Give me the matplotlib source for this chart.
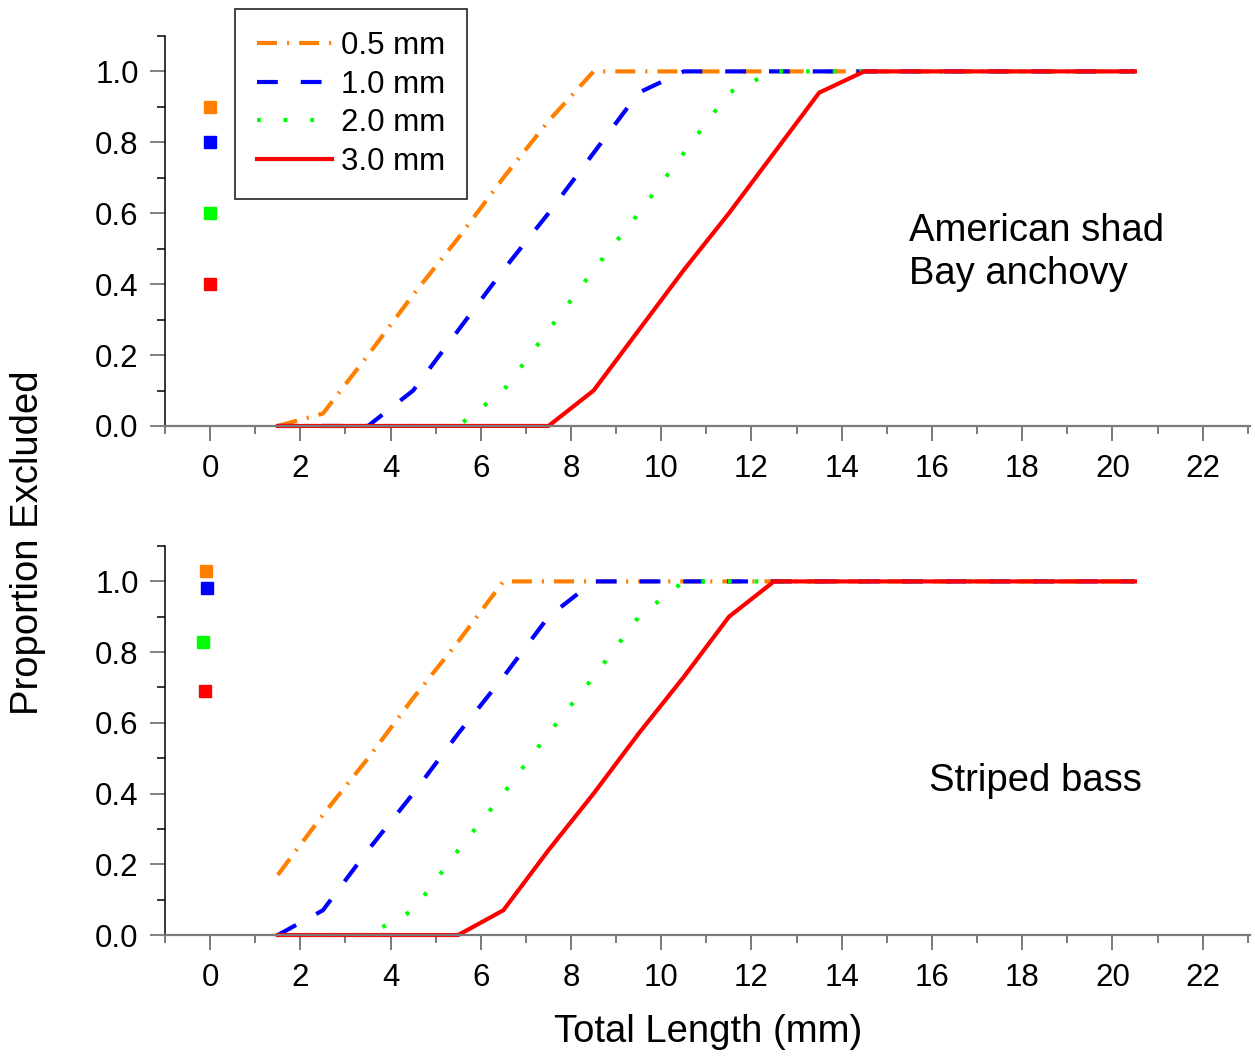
import numpy as np
import matplotlib
matplotlib.use("Agg")
import matplotlib.pyplot as plt
from matplotlib.ticker import MultipleLocator, FormatStrFormatter

plt.rcParams['font.family'] = ['Liberation Sans', 'DejaVu Sans']

# total length (mm), one point per size class
length = [1.5, 2.5, 3.5, 4.5, 5.5, 6.5, 7.5, 8.5, 9.5, 10.5,
          11.5, 12.5, 13.5, 14.5, 15.5, 16.5, 17.5, 18.5, 19.5, 20.5]

# American shad / Bay anchovy
shad_05 = [0, 0.035, 0.20, 0.37, 0.53, 0.70, 0.86, 1.0, 1, 1,
           1, 1, 1, 1, 1, 1, 1, 1, 1, 1]
shad_10 = [0, 0, 0, 0.10, 0.27, 0.44, 0.60, 0.77, 0.94, 1.0,
           1, 1, 1, 1, 1, 1, 1, 1, 1, 1]
shad_20 = [0, 0, 0, 0, 0, 0.10, 0.27, 0.44, 0.60, 0.77,
           0.94, 1.0, 1, 1, 1, 1, 1, 1, 1, 1]
shad_30 = [0, 0, 0, 0, 0, 0, 0, 0.10, 0.27, 0.44,
           0.60, 0.77, 0.94, 1.0, 1, 1, 1, 1, 1, 1]

# Striped bass
bass_05 = [0.17, 0.34, 0.50, 0.67, 0.83, 1.0, 1, 1, 1, 1,
           1, 1, 1, 1, 1, 1, 1, 1, 1, 1]
bass_10 = [0, 0.07, 0.24, 0.40, 0.57, 0.73, 0.90, 1.0, 1, 1,
           1, 1, 1, 1, 1, 1, 1, 1, 1, 1]
bass_20 = [0, 0, 0, 0.07, 0.24, 0.40, 0.57, 0.73, 0.90, 1.0,
           1, 1, 1, 1, 1, 1, 1, 1, 1, 1]
bass_30 = [0, 0, 0, 0, 0, 0.07, 0.24, 0.40, 0.57, 0.73,
           0.90, 1.0, 1, 1, 1, 1, 1, 1, 1, 1]

# single square points near x = 0
shad_sq_x = [0, 0, 0, 0]
shad_sq_y = [0.90, 0.80, 0.60, 0.40]
bass_sq_x = [-0.10, -0.08, -0.15, -0.12]
bass_sq_y = [1.03, 0.98, 0.83, 0.69]

labels = ['0.5 mm', '1.0 mm', '2.0 mm', '3.0 mm']
colors = ['#FF8000', '#0000FF', '#00FF00', '#FF0000']
styles = [(0, (4.8, 2.4, 0.5, 2.4)), (0, (5, 5.5)), (0, (0.9, 5.5)), '-']

fig = plt.figure(figsize=(12.55, 10.57), dpi=100)
ax1 = fig.add_axes([0.1315, 0.597, 0.8645, 0.369])
ax2 = fig.add_axes([0.1315, 0.1154, 0.8645, 0.368])


def draw_panel(ax, series, sq_x, sq_y):
    handles = []
    for y, c, ls, lab in zip(series, colors, styles, labels):
        h, = ax.plot(length, y, color=c, linestyle=ls, lw=3, label=lab,
                     clip_on=False)
        handles.append(h)
    for xs, ys, c in zip(sq_x, sq_y, colors):
        ax.plot(xs, ys, 's', color=c, ms=9, clip_on=False)
    ax.set_xlim(-1, 23.05)
    ax.set_ylim(0, 1.1)
    ax.xaxis.set_major_locator(MultipleLocator(2))
    ax.xaxis.set_minor_locator(MultipleLocator(1))
    ax.yaxis.set_minor_locator(MultipleLocator(0.1))
    ax.set_yticks([0, 0.2, 0.4, 0.6, 0.8, 1.0])
    ax.yaxis.set_major_formatter(FormatStrFormatter('%.1f'))
    for s in ['top', 'right']:
        ax.spines[s].set_visible(False)
    ax.spines['left'].set_linewidth(1.1)
    ax.spines['bottom'].set_color('#7a7a7a')
    ax.spines['bottom'].set_linewidth(1.6)
    ax.tick_params(axis='x', which='major', length=11, width=1.1,
                   color='#555555', labelsize=22.5, pad=9)
    ax.tick_params(axis='x', which='minor', length=6, width=1.1,
                   color='#555555')
    ax.tick_params(axis='y', which='major', length=11, width=1.3,
                   color='#777777', labelsize=22.5, pad=8)
    ax.tick_params(axis='y', which='minor', length=6, width=1.1,
                   color='black')
    return handles


hs = draw_panel(ax1, [shad_05, shad_10, shad_20, shad_30], shad_sq_x, shad_sq_y)
draw_panel(ax2, [bass_05, bass_10, bass_20, bass_30], bass_sq_x, bass_sq_y)

leg = fig.legend(handles=hs, loc='upper left',
                 bbox_to_anchor=(235 / 1255, 1 - 9 / 1057),
                 bbox_transform=fig.transFigure, fontsize=22.5,
                 handlelength=2.4, handletextpad=0.3, labelspacing=0.28,
                 borderaxespad=0, borderpad=0.7, fancybox=False)
leg.get_frame().set_edgecolor('black')
leg.get_frame().set_linewidth(1.3)

ax1.text(15.5, 0.49, 'American shad\nBay anchovy', fontsize=27.5,
         ha='left', va='center', linespacing=1.25)
ax2.text(15.94, 0.435, 'Striped bass', fontsize=27.5, ha='left', va='center')

fig.text(28 / 1255, 0.487, 'Proportion Excluded', fontsize=27.5,
         rotation=90, ha='center', va='center')
fig.text(0.564, 0.0237, 'Total Length (mm)', fontsize=27.5,
         ha='center', va='center')

fig.savefig('out.png', dpi=100)
